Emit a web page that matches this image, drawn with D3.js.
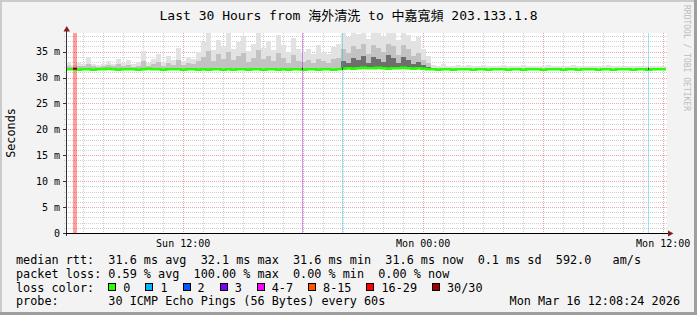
<!DOCTYPE html>
<html>
<head>
<meta charset="utf-8">
<title>SmokePing 30 hours</title>
<script src="https://d3js.org/d3.v7.min.js"></script>
<style>
    body { margin: 0; background: #ffffff; }
    svg text { font-family: "DejaVu Sans Mono", "Noto Sans CJK TC", monospace; }
</style>
</head>
<body>
<svg width="697" height="315"></svg>
<script>
    // time window of the graph
    var startTime = new Date(2026, 2, 15, 6, 8, 24);
    var endTime = new Date(2026, 2, 16, 12, 8, 24);
    var binMinutes = 15;

    // median rtt per 15 min bin (ms)
    var median = [31.6, 31.6, 31.5, 31.6, 31.6, 31.5, 31.6, 31.6, 31.7, 31.6, 31.5, 31.6, 31.6, 31.6, 31.5, 31.6, 31.7, 31.6, 31.6, 31.5,
        31.6, 31.6, 31.6, 31.5, 31.6, 31.6, 31.5, 31.6, 31.5, 31.6, 31.6, 31.5, 31.6, 31.5, 31.6, 31.6, 31.5, 31.6, 31.6, 31.5,
        31.6, 31.6, 31.5, 31.6, 31.5, 31.6, 31.6, 31.5, 31.6, 31.6, 31.5, 31.6, 31.6, 31.5, 31.6, 31.7, 31.8, 31.7, 31.8, 31.9,
        31.8, 31.8, 31.9, 31.8, 31.7, 31.8, 31.8, 31.9, 31.8, 31.7, 31.8, 31.7, 31.6, 31.6, 31.5, 31.6, 31.6, 31.5, 31.6, 31.6,
        31.6, 31.5, 31.6, 31.6, 31.5, 31.6, 31.6, 31.6, 31.5, 31.6, 31.6, 31.5, 31.6, 31.6, 31.6, 31.5, 31.6, 31.6, 31.6, 31.5,
        31.6, 31.6, 31.5, 31.6, 31.6, 31.6, 31.5, 31.6, 31.6, 31.5, 31.6, 31.6, 31.6, 31.5, 31.6, 31.6, 31.5, 31.6, 31.6, 31.6];

    // top of the light smoke (slowest pings)
    var smokeHi = [32.8, 32.5, 32.9, 32.6, 33.9, 32.7, 32.5, 32.6, 33.1, 32.7, 33.6, 32.8, 33.3, 32.6, 33.0, 35.2, 32.9, 33.5, 34.6, 33.0,
        34.2, 33.4, 35.8, 33.2, 34.0, 33.6, 35.0, 36.8, 38.6, 35.4, 37.2, 36.0, 38.6, 35.6, 36.9, 38.1, 35.2, 36.4, 38.6, 35.8,
        37.0, 35.4, 38.2, 36.2, 35.0, 37.6, 35.5, 34.8, 35.6, 34.5, 36.2, 35.0, 34.6, 35.9, 36.4, 38.6, 37.8, 38.6, 38.4, 38.6,
        37.5, 38.6, 38.6, 38.0, 38.6, 38.6, 37.2, 38.6, 38.3, 37.0, 37.8, 35.6, 34.2, 32.4, 32.2, 32.6, 32.3, 32.2, 32.4, 32.2,
        32.5, 32.3, 32.2, 32.4, 32.2, 32.3, 32.2, 32.5, 32.2, 32.3, 32.2, 32.4, 32.2, 32.2, 32.3, 32.2, 32.4, 32.2, 32.3, 32.2,
        32.2, 32.4, 32.2, 32.3, 32.2, 32.2, 32.3, 32.2, 32.4, 32.2, 32.2, 32.3, 32.2, 32.2, 32.3, 32.2, 32.2, 32.3, 32.2, 32.2];

    // top of the medium smoke
    var smokeMid = [32.2, 32.1, 32.3, 32.2, 32.6, 32.2, 32.1, 32.2, 32.4, 32.2, 32.6, 32.2, 32.4, 32.1, 32.3, 33.2, 32.3, 32.6, 33.0, 32.3,
        32.8, 32.5, 33.4, 32.4, 32.8, 32.6, 33.2, 34.0, 35.2, 33.2, 34.5, 33.6, 35.0, 33.4, 34.2, 34.8, 33.0, 33.8, 35.4, 33.5,
        34.2, 33.2, 34.8, 33.8, 32.9, 34.4, 33.2, 33.0, 33.4, 32.8, 33.6, 33.2, 32.9, 33.5, 33.8, 35.5, 34.8, 36.0, 35.6, 36.4,
        34.6, 36.2, 35.8, 35.0, 36.5, 36.0, 34.4, 36.2, 35.5, 34.2, 34.8, 33.4, 32.8, 31.9, 31.9, 31.9, 31.9, 31.9, 31.9, 31.9];

    // dark core of the smoke in the busy evening hours
    var darkStart = 55;
    var smokeDark = [33.2, 32.8, 33.8, 33.4, 34.2, 32.9, 34.0, 33.6, 33.0, 34.4, 33.8, 32.8, 34.0, 33.4, 32.6, 33.0, 32.4, 32.0];

    // loss events: hours after start, duration, loss colour bucket
    var lossEvents = [
        { hour: 0.35, minutes: 12, level: 6 },
        { hour: 11.78, minutes: 3, level: 3 },
        { hour: 13.8, minutes: 3, level: 1 },
        { hour: 29.08, minutes: 3, level: 1 }
    ];

    var yTicks = [0, 5, 10, 15, 20, 25, 30, 35];
    var lossLabels = ["0", "1", "2", "3", "4-7", "8-15", "16-29", "30/30"];
    var lossColors = ["#26ff00", "#00b8ff", "#0059ff", "#7e00ff", "#ff00ff", "#ff5500", "#ff0000", "#a00000"];

    var legendRows = [
        "median rtt:  31.6 ms avg  32.1 ms max  31.6 ms min  31.6 ms now  0.1 ms sd  592.0   am/s",
        "packet loss: 0.59 % avg  100.00 % max  0.00 % min  0.00 % now",
        "loss color:",
        "probe:       30 ICMP Echo Pings (56 Bytes) every 60s"
    ];

    var svg = d3.select("svg"),
        W = 697, H = 315,
        plot = { left: 66, right: 666, top: 33, bottom: 233 };

    var x = d3.scaleTime().domain([startTime, endTime]).range([plot.left, plot.right]);
    var y = d3.scaleLinear().domain([0, 38.6]).range([plot.bottom, plot.top]);

    function binTime(i) { return new Date(startTime.getTime() + i * binMinutes * 60000); }

    // background and frame
    svg.append("rect").attr("width", W).attr("height", H).attr("fill", "#f3f3f3");
    svg.append("rect").attr("x", 0).attr("y", 0).attr("width", W).attr("height", 2).attr("fill", "#cbcbcb");
    svg.append("rect").attr("x", 0).attr("y", 0).attr("width", 2).attr("height", H).attr("fill", "#cbcbcb");
    svg.append("rect").attr("x", W - 3).attr("y", 0).attr("width", 3).attr("height", H).attr("fill", "#9e9e9e");
    svg.append("rect").attr("x", 0).attr("y", H - 3).attr("width", W).attr("height", 3).attr("fill", "#9e9e9e");

    svg.append("rect")
        .attr("x", plot.left).attr("y", plot.top)
        .attr("width", plot.right - plot.left + 1).attr("height", plot.bottom - plot.top)
        .attr("fill", "#ffffff");

    // grid
    var grid = svg.append("g").attr("stroke-dasharray", "1,1").attr("shape-rendering", "crispEdges");
    var hours = d3.timeHour.range(startTime, endTime);
    grid.selectAll(".vgrid")
        .data(hours)
        .enter().append("line")
        .attr("x1", function (d) { return Math.round(x(d)) + 0.5; })
        .attr("x2", function (d) { return Math.round(x(d)) + 0.5; })
        .attr("y1", plot.top).attr("y2", plot.bottom + 2)
        .attr("stroke", function (d) { return d.getHours() % 6 === 0 ? "rgba(224,80,80,0.5)" : "rgba(170,170,170,0.55)"; });

    var msLines = d3.range(1, 39);
    grid.selectAll(".hgrid")
        .data(msLines)
        .enter().append("line")
        .attr("x1", plot.left - 2).attr("x2", plot.right + 1)
        .attr("y1", function (d) { return Math.round(y(d)) + 0.5; })
        .attr("y2", function (d) { return Math.round(y(d)) + 0.5; })
        .attr("stroke", function (d) { return d % 5 === 0 ? "rgba(224,80,80,0.5)" : "rgba(170,170,170,0.55)"; });

    // smoke
    var smoke = svg.append("g").attr("shape-rendering", "crispEdges");
    function smokeLayer(values, offset, colour) {
        smoke.append("g").selectAll("rect")
            .data(values)
            .enter().append("rect")
            .attr("x", function (d, i) { return x(binTime(i + offset)); })
            .attr("width", function (d, i) { return x(binTime(i + offset + 1)) - x(binTime(i + offset)); })
            .attr("y", function (d) { return y(d); })
            .attr("height", function (d, i) { return Math.max(0, y(median[i + offset]) - y(d)); })
            .attr("fill", colour);
    }
    smokeLayer(smokeHi, 0, "#e2e2e2");
    smokeLayer(smokeMid, 0, "#c2c2c2");
    smokeLayer(smokeDark, darkStart, "#6e6e6e");

    // loss bands
    svg.append("g").selectAll("rect")
        .data(lossEvents)
        .enter().append("rect")
        .attr("x", function (d) { return Math.round(x(new Date(startTime.getTime() + d.hour * 3600000))); })
        .attr("width", function (d) { return Math.max(1, x(new Date(startTime.getTime() + d.minutes * 60000)) - x(startTime)); })
        .attr("y", plot.top).attr("height", plot.bottom - plot.top)
        .attr("fill", function (d) { return lossColors[d.level]; })
        .attr("opacity", 0.38);

    // median line
    var line = d3.line()
        .curve(d3.curveStepAfter)
        .x(function (d) { return x(d.t); })
        .y(function (d) { return y(d.v); });
    var medianPts = median.map(function (v, i) { return { t: binTime(i), v: v }; });
    medianPts.push({ t: endTime, v: median[median.length - 1] });
    svg.append("path")
        .attr("d", line(medianPts))
        .attr("fill", "none")
        .attr("stroke", lossColors[0])
        .attr("stroke-width", 2.6);

    svg.append("g").selectAll("rect")
        .data(lossEvents)
        .enter().append("rect")
        .attr("x", function (d) { return Math.round(x(new Date(startTime.getTime() + d.hour * 3600000))); })
        .attr("width", function (d) { return Math.max(1, x(new Date(startTime.getTime() + d.minutes * 60000)) - x(startTime)); })
        .attr("y", function (d) { return y(31.6) - 1.5; }).attr("height", 2)
        .attr("fill", "#7a0000");

    // axes
    var axes = svg.append("g").attr("shape-rendering", "crispEdges");
    axes.append("line").attr("x1", plot.left + 0.5).attr("x2", plot.left + 0.5)
        .attr("y1", plot.top - 2).attr("y2", plot.bottom + 3).attr("stroke", "#333");
    axes.append("line").attr("x1", plot.left - 3).attr("x2", plot.right + 3)
        .attr("y1", plot.bottom + 0.5).attr("y2", plot.bottom + 0.5).attr("stroke", "#000");
    axes.selectAll(".ytick")
        .data(yTicks)
        .enter().append("line")
        .attr("x1", plot.left - 3).attr("x2", plot.left)
        .attr("y1", function (d) { return Math.round(y(d)) + 0.5; })
        .attr("y2", function (d) { return Math.round(y(d)) + 0.5; })
        .attr("stroke", "#333");

    svg.append("path")
        .attr("d", "M63.5,31.5 L70,31.5 L66.75,26 Z")
        .attr("fill", "#8b1c1c");
    svg.append("path")
        .attr("d", "M668,230.5 L668,236.5 L673.5,233.5 Z")
        .attr("fill", "#8b1c1c");

    // y labels
    svg.append("g").selectAll("text")
        .data(yTicks)
        .enter().append("text")
        .attr("x", 60)
        .attr("y", function (d) { return y(d) + 3.6; })
        .attr("text-anchor", "end")
        .style("font-size", "10px")
        .style("white-space", "pre")
        .text(function (d) { return d === 0 ? "0" : d + " m"; });

    // x labels
    var labelHours = hours.filter(function (d) { return d.getHours() % 12 === 0; });
    var fmt = d3.timeFormat("%a %H:%M");
    svg.append("g").selectAll("text")
        .data(labelHours)
        .enter().append("text")
        .attr("x", function (d) { return x(d); })
        .attr("y", 246.5)
        .attr("text-anchor", "middle")
        .style("font-size", "10px")
        .text(function (d) { return fmt(d); });

    // title
    svg.append("text")
        .attr("x", 348.5).attr("y", 19.5)
        .attr("text-anchor", "middle")
        .style("font-size", "13px")
        .text("Last 30 Hours from 海外清洗 to 中嘉寬頻 203.133.1.8");

    svg.append("text")
        .attr("transform", "translate(15,133) rotate(-90)")
        .attr("text-anchor", "middle")
        .style("font-size", "11.8px")
        .text("Seconds");

    svg.append("text")
        .attr("transform", "translate(684,5) rotate(90)")
        .style("font-size", "8px")
        .attr("fill", "#bdbdbd")
        .text("RRDTOOL / TOBI OETIKER");

    // legend
    var rowY = [263.5, 277.5, 291.5, 305];
    svg.append("g").selectAll("text")
        .data(legendRows)
        .enter().append("text")
        .attr("x", 16)
        .attr("y", function (d, i) { return rowY[i]; })
        .style("font-size", "11.8px")
        .style("white-space", "pre")
        .text(function (d) { return d; });

    var cursor = 108.3;
    lossLabels.forEach(function (lab, i) {
        svg.append("rect")
            .attr("x", Math.round(cursor) + 0.5).attr("y", 283.5)
            .attr("width", 7).attr("height", 7)
            .attr("fill", lossColors[i])
            .attr("stroke", "#000");
        var t = svg.append("text")
            .attr("x", cursor + 15)
            .attr("y", rowY[2])
            .style("font-size", "11.8px")
            .text(lab);
        cursor += 30 + t.node().getComputedTextLength();
    });

    svg.append("text")
        .attr("x", 680).attr("y", rowY[3])
        .attr("text-anchor", "end")
        .style("font-size", "11.8px")
        .text("Mon Mar 16 12:08:24 2026");
</script>
</body>
</html>
